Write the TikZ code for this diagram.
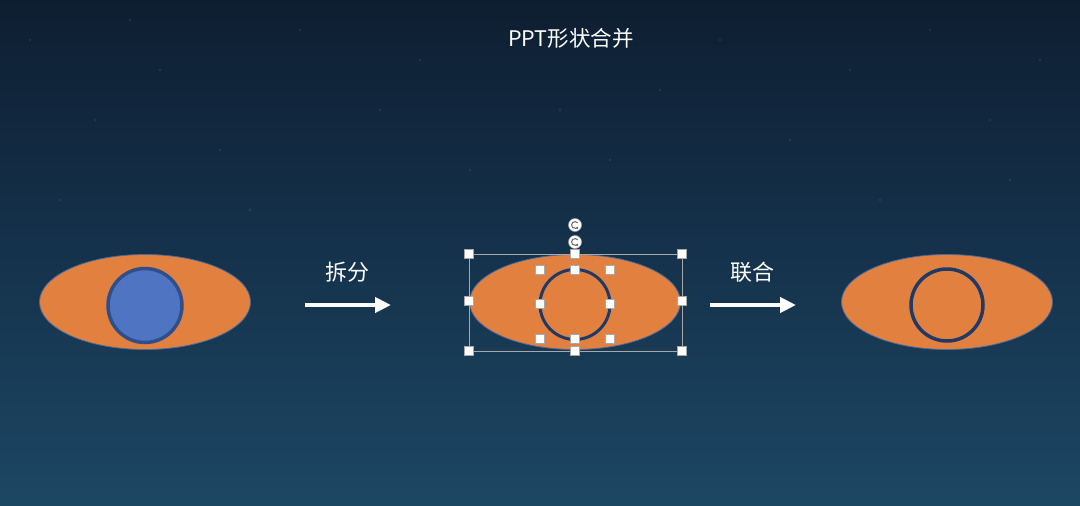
\documentclass[tikz,border=0pt]{standalone}
\usepackage{fontspec}
\newfontfamily\cjk{Noto Sans CJK SC}
\usetikzlibrary{shapes.geometric,arrows.meta}
\definecolor{bgtop}{HTML}{0E1E31}
\definecolor{bgmid}{HTML}{15324C}
\definecolor{bgbot}{HTML}{1C4763}
\definecolor{orangefill}{HTML}{E2813F}
\definecolor{blueedge}{HTML}{4A6A9E}
\definecolor{bluefill}{HTML}{4F74C2}
\definecolor{bluering}{HTML}{2E4F8C}
\definecolor{navyring}{HTML}{1F3A66}
\definecolor{selgray}{HTML}{A8A8A8}
\tikzset{
  eye/.style={ellipse, fill=orangefill, draw=blueedge, line width=0.8pt, minimum width=211pt, minimum height=95pt, inner sep=0pt},
  pupil/.style={circle, fill=bluefill, draw=bluering, line width=3.5pt, minimum size=74pt, inner sep=0pt},
  ring/.style={circle, draw=navyring, line width=3pt, minimum size=70pt, inner sep=0pt},
  handle/.style={rectangle, fill=white, draw=selgray, line width=0.4pt, minimum size=9pt, inner sep=0pt},
  selbox/.style={draw=selgray, line width=0.8pt},
  flow/.style={draw=white, line width=4pt, -{Triangle[length=16pt,width=15pt]}},
  label/.style={text=white, font=\cjk\fontsize{22}{26}\selectfont},
  rot/.style={circle, fill=white, draw=selgray, line width=0.5pt, minimum size=13pt, inner sep=0pt}
}
\begin{document}
\begin{tikzpicture}[x=1pt,y=-1pt]
\shade[top color=bgtop, bottom color=bgmid] (0,0) rectangle (1080,253);
\shade[top color=bgmid, bottom color=bgbot] (0,253) rectangle (1080,506);
\useasboundingbox (0,0) rectangle (1080,506);
% faint stars
\foreach \sx/\sy in {30/40,95/120,160/70,220/150,300/30,380/110,420/60,470/170,660/90,720/40,790/140,850/70,930/30,990/120,1040/60,60/200,250/210,880/200,1010/180,130/20,560/110,610/160}
  \fill[white, opacity=0.35] (\sx,\sy) circle (0.6pt);
% title
\node[label, font=\cjk\fontsize{21.5}{25}\selectfont] (title) at (571,38) {PPT形状合并};
% left
\node[eye] (eyeL) at (145,302) {};
\node[pupil] (pupL) at (145,305.5) {};
% arrow 1
\coordinate (a1s) at (305,305);
\coordinate (a1e) at (391,305);
\draw[flow] (a1s) -- (a1e);
\node[label] (lab1) at (347,272) {拆分};
% middle
\node[eye] (eyeM) at (575,302) {};
\node[ring] (ringM) at (575,304.5) {};
\node[selbox, minimum width=213pt, minimum height=97pt, inner sep=0pt] (selM) at (575.5,302.5) {};
\foreach \hx/\hy in {469/254,575/254,682/254,469/301,682/301,469/351,575/351,682/351,540/270,575/270,610/270,540/304,610/304,540/339,575/339,610/339}
  \node[handle] at (\hx,\hy) {};
% rotation icons
\foreach \ry/\nm in {225/rotA,242/rotB}{
  \node[rot] (\nm) at (575,\ry) {};
  \draw[selgray!60!black, line width=1pt, -{Stealth[length=2.5pt,width=3pt]}] ([shift={(40:3.4pt)}]575,\ry) arc[start angle=40, end angle=330, radius=3.4pt];
}
% arrow 2
\coordinate (a2s) at (710,305);
\coordinate (a2e) at (796,305);
\draw[flow] (a2s) -- (a2e);
\node[label] (lab2) at (752,272) {联合};
% right
\node[eye] (eyeR) at (947,302) {};
\node[ring, minimum size=72pt, line width=3.5pt] (ringR) at (947,305) {};
\end{tikzpicture}
\end{document}
